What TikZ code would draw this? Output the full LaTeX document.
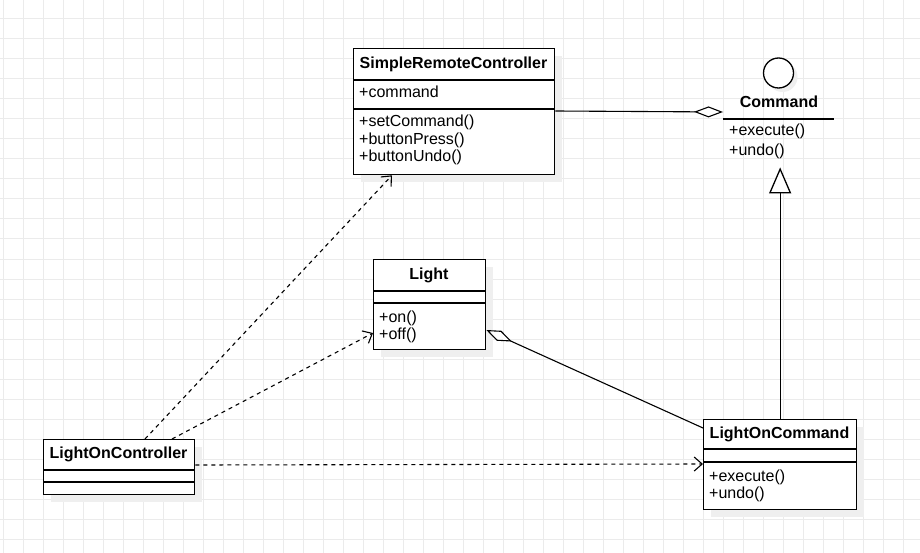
\documentclass[tikz,border=0pt]{standalone}
\usepackage{fontspec}
\setmainfont{Liberation Sans}
\usetikzlibrary{arrows.meta,calc}
\definecolor{gridc}{HTML}{EBEBEB}
\definecolor{shadowc}{HTML}{EFEFEF}
\begin{document}
\begin{tikzpicture}[x=1pt,y=-1pt,
  font=\fontsize{16}{18}\selectfont,
  umlbox/.style={draw=black, line width=1.3pt, fill=white, inner sep=0pt, anchor=north west, rectangle},
  shade/.style={fill=shadowc},
  sep/.style={line width=1.3pt},
  ttl/.style={font=\fontsize{16}{18}\selectfont\bfseries, inner sep=0pt, text height=11.5pt, text depth=3pt},
  mem/.style={anchor=west, inner sep=0pt, text height=11.5pt, text depth=3.5pt},
  dep/.style={line width=1.1pt, dash pattern=on 4pt off 4pt, -{Straight Barb[length=8pt,width=14pt]}},
  agg/.style={line width=1.1pt, {Diamond[open,fill=white,length=28pt,width=11pt]}-},
  aggend/.style={line width=1.1pt, -{Diamond[open,fill=white,length=29pt,width=11pt]}},
  inh/.style={line width=1.3pt, -{Triangle[open,fill=white,length=26pt,width=22pt]}}
]
% background and grid
\useasboundingbox (0,0) rectangle (920,553);
\fill[white] (0,0) rectangle (920,553);
\foreach \gx in {3,23,...,920} \draw[gridc, line width=1pt] (\gx,0) -- (\gx,553);
\foreach \gy in {19,39,...,553} \draw[gridc, line width=1pt] (0,\gy) -- (920,\gy);

% shadows
\fill[shade] (361,56) rectangle (562,182);
\fill[shade] (381,267) rectangle (493,357);
\fill[shade] (711,427) rectangle (864,517);
\fill[shade] (51,447) rectangle (202,502);
\fill[shade] (782.5,77) circle (15);

% SimpleRemoteController
\node[umlbox, minimum width=201pt, minimum height=126pt] (src) at (353,48) {};
\draw[sep] (353,80) -- (554,80);
\draw[sep] (353,109) -- (554,109);
\node[ttl] (srcT) at (453.5,64) {SimpleRemoteController};
\node[mem] (srcA) at (359,94) {+command};
\node[mem] (srcM1) at (359,123) {+setCommand()};
\node[mem] (srcM2) at (359,140.5) {+buttonPress()};
\node[mem] (srcM3) at (359,158) {+buttonUndo()};

% Command interface
\node[draw=none, inner sep=0pt, anchor=north west, minimum width=111pt, minimum height=79pt] (cmd) at (723,88) {};
\node[circle, draw=black, line width=1.3pt, fill=white, minimum size=30pt, inner sep=0pt] (cmdicon) at (778.5,73) {};
\node[ttl] (cmdT) at (779,103) {Command};
\draw[sep] (723,119) -- (834,119);
\node[mem] (cmdM1) at (729,132) {+execute()};
\node[mem] (cmdM2) at (729,152) {+undo()};

% Light
\node[umlbox, minimum width=112pt, minimum height=90pt] (light) at (373,259) {};
\draw[sep] (373,291) -- (485,291);
\draw[sep] (373,303) -- (485,303);
\node[ttl] (lightT) at (429,275) {Light};
\node[mem] (lightM1) at (379,318) {+on()};
\node[mem] (lightM2) at (379,335) {+off()};

% LightOnCommand
\node[umlbox, minimum width=153pt, minimum height=90pt] (lc) at (703,419) {};
\draw[sep] (703,449) -- (856,449);
\draw[sep] (703,462) -- (856,462);
\node[ttl] (lcT) at (779.5,434) {LightOnCommand};
\node[mem] (lcM1) at (709,477) {+execute()};
\node[mem] (lcM2) at (709,494) {+undo()};

% LightOnController
\node[umlbox, minimum width=151pt, minimum height=55pt] (loc) at (43,439) {};
\draw[sep] (43,470) -- (194,470);
\draw[sep] (43,482) -- (194,482);
\node[ttl] (locT) at (118.5,454) {LightOnController};

% connectors
\draw[dep] ([xshift=102pt]loc.north west) -- ([xshift=39pt]src.south west);
\draw[dep] ([xshift=129pt]loc.north west) -- ([yshift=-74pt]light.north west);
\draw[dep] ([yshift=-26pt]loc.north east) -- ([yshift=-45pt]lc.north west);
\draw[agg] ([yshift=-71pt]light.north east) -- ([yshift=-9pt]lc.north west);
\draw[aggend] ([yshift=-63pt]src.north east) -- ([yshift=-24pt]cmd.north west);
\draw[inh] (lc.north) -- (lc.north |- cmd.south);
\end{tikzpicture}
\end{document}
